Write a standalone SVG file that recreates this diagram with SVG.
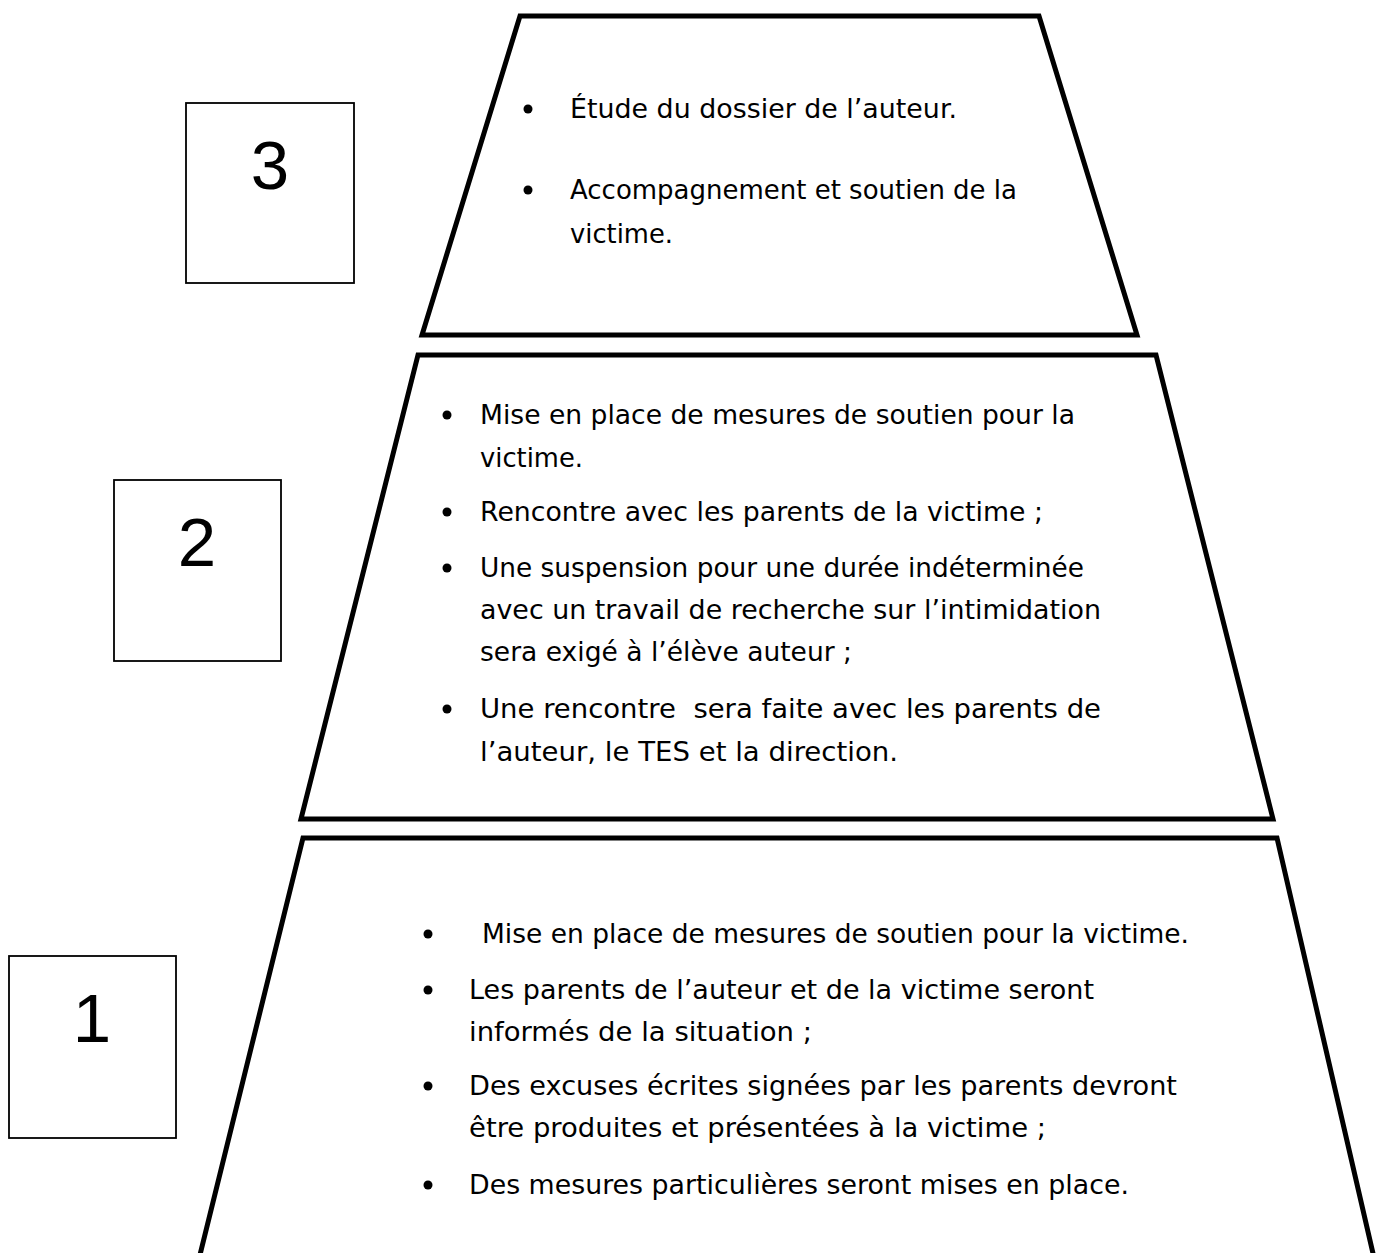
<svg xmlns="http://www.w3.org/2000/svg" width="1379" height="1253" viewBox="0 0 1379 1253">
<style>
.trap{fill:#fff;stroke:#000;stroke-width:5;stroke-linejoin:miter}
.box{fill:#fff;stroke:#000;stroke-width:1.8}
.num{font-family:"Liberation Sans",Arial,sans-serif;font-size:69px;fill:#000;text-anchor:middle}
.t{font-family:"DejaVu Sans","Liberation Sans",sans-serif;font-size:27px;fill:#000}
.b{fill:#000}
</style>
<rect width="1379" height="1253" fill="#fff"/>
<g id="level3">
<polygon class="trap" points="520,16 1039,16 1137,335 422,335"/>
<circle class="b" cx="528" cy="109" r="4.5"/>
<text class="t" x="570" y="118" textLength="387" lengthAdjust="spacingAndGlyphs">Étude du dossier de l’auteur.</text>
<circle class="b" cx="528" cy="190" r="4.5"/>
<text class="t" x="570" y="199" textLength="447" lengthAdjust="spacingAndGlyphs">Accompagnement et soutien de la</text>
<text class="t" x="570" y="243" textLength="103" lengthAdjust="spacingAndGlyphs">victime.</text>
</g>
<g id="level2">
<polygon class="trap" points="418,355 1156,355 1273,819 301,819"/>
<circle class="b" cx="447" cy="415" r="4.5"/>
<text class="t" x="480" y="424" textLength="595" lengthAdjust="spacingAndGlyphs">Mise en place de mesures de soutien pour la</text>
<text class="t" x="480" y="467" textLength="103" lengthAdjust="spacingAndGlyphs">victime.</text>
<circle class="b" cx="447" cy="512" r="4.5"/>
<text class="t" x="480" y="521" textLength="563" lengthAdjust="spacingAndGlyphs">Rencontre avec les parents de la victime ;</text>
<circle class="b" cx="447" cy="568" r="4.5"/>
<text class="t" x="480" y="577" textLength="604" lengthAdjust="spacingAndGlyphs">Une suspension pour une durée indéterminée</text>
<text class="t" x="480" y="619" textLength="621" lengthAdjust="spacingAndGlyphs">avec un travail de recherche sur l’intimidation</text>
<text class="t" x="480" y="661" textLength="372" lengthAdjust="spacingAndGlyphs">sera exigé à l’élève auteur ;</text>
<circle class="b" cx="447" cy="709" r="4.5"/>
<text class="t" x="480" y="718" textLength="621" lengthAdjust="spacingAndGlyphs" xml:space="preserve">Une rencontre  sera faite avec les parents de</text>
<text class="t" x="480" y="761" textLength="418" lengthAdjust="spacingAndGlyphs">l’auteur, le TES et la direction.</text>
</g>
<g id="level1">
<polygon class="trap" points="303,838 1277,838 1378,1275 195,1275"/>
<circle class="b" cx="428" cy="934" r="4.5"/>
<text class="t" x="482" y="943" textLength="707" lengthAdjust="spacingAndGlyphs">Mise en place de mesures de soutien pour la victime.</text>
<circle class="b" cx="428" cy="990" r="4.5"/>
<text class="t" x="469" y="999" textLength="625" lengthAdjust="spacingAndGlyphs">Les parents de l’auteur et de la victime seront</text>
<text class="t" x="469" y="1041" textLength="343" lengthAdjust="spacingAndGlyphs">informés de la situation ;</text>
<circle class="b" cx="428" cy="1086" r="4.5"/>
<text class="t" x="469" y="1095" textLength="708" lengthAdjust="spacingAndGlyphs">Des excuses écrites signées par les parents devront</text>
<text class="t" x="469" y="1137" textLength="577" lengthAdjust="spacingAndGlyphs">être produites et présentées à la victime ;</text>
<circle class="b" cx="428" cy="1185" r="4.5"/>
<text class="t" x="469" y="1194" textLength="660" lengthAdjust="spacingAndGlyphs">Des mesures particulières seront mises en place.</text>
</g>
<g id="box3">
<rect class="box" x="186" y="103" width="168" height="180"/>
<text class="num" x="270" y="189">3</text>
</g>
<g id="box2">
<rect class="box" x="114" y="480" width="167" height="181"/>
<text class="num" x="197" y="566">2</text>
</g>
<g id="box1">
<rect class="box" x="9" y="956" width="167" height="182"/>
<text class="num" x="92" y="1042">1</text>
</g>
</svg>
